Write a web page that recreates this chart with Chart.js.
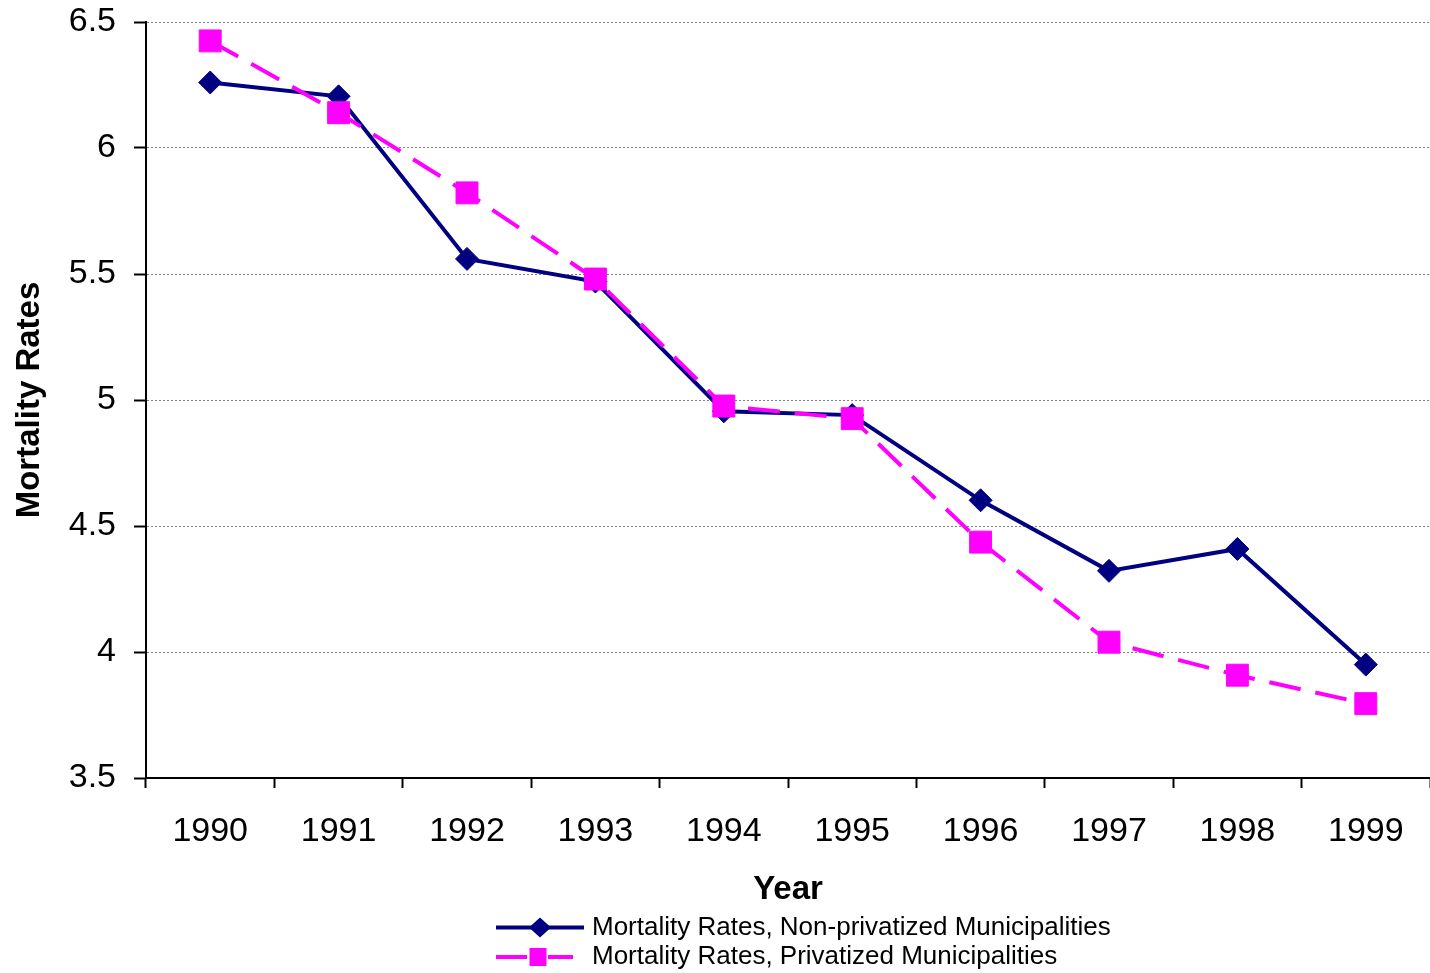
<!DOCTYPE html>
<html>
<head>
<meta charset="utf-8">
<script src="https://cdn.jsdelivr.net/npm/chart.js@4/dist/chart.umd.min.js"></script>
<style>
html,body{margin:0;padding:0;background:#fff;}
#wrap{width:1430px;height:973px;position:relative;}
</style>
</head>
<body>
<div id="wrap"><canvas id="c"></canvas></div>
<script>
const years = ['1990','1991','1992','1993','1994','1995','1996','1997','1998','1999'];
const nonPrivatized = [6.26, 6.205, 5.56, 5.47, 4.955, 4.94, 4.602, 4.322, 4.409, 3.95];
const privatized = [6.425, 6.14, 5.822, 5.48, 4.976, 4.926, 4.436, 4.039, 3.908, 3.795];
const yTickLabels = ['3.5','4','4.5','5','5.5','6','6.5'];
const seriesLabels = ['Mortality Rates, Non-privatized Municipalities','Mortality Rates, Privatized Municipalities'];

const FONT = "'Liberation Sans', Arial, sans-serif";

const legendPlugin = {
  id: 'customLegend',
  afterDraw(chart) {
    const ctx = chart.ctx;
    const x0 = 496;
    const rows = [927.5, 957];
    ctx.save();
    chart.data.datasets.forEach((ds, i) => {
      const y = rows[i];
      ctx.strokeStyle = ds.borderColor;
      ctx.lineWidth = 4;
      ctx.setLineDash([]);
      ctx.beginPath();
      if (i === 0) {
        ctx.moveTo(x0, y); ctx.lineTo(x0 + 88, y);
      } else {
        ctx.moveTo(x0, y); ctx.lineTo(x0 + 31, y);
        ctx.moveTo(x0 + 52, y); ctx.lineTo(x0 + 77, y);
      }
      ctx.stroke();
      const mx = i === 0 ? x0 + 44 : x0 + 42;
      ctx.beginPath();
      if (i === 0) {
        ctx.moveTo(mx - 11, y); ctx.lineTo(mx, y - 10);
        ctx.lineTo(mx + 11, y); ctx.lineTo(mx, y + 10);
        ctx.closePath();
      } else {
        ctx.rect(mx - 8.5, y - 9, 17, 18);
      }
      ctx.fillStyle = ds.pointBackgroundColor;
      ctx.fill();
      ctx.fillStyle = '#000';
      ctx.font = "26px " + FONT;
      ctx.textBaseline = 'middle';
      ctx.textAlign = 'left';
      ctx.fillText(ds.label, x0 + 96, y);
    });
    ctx.restore();
  }
};

new Chart(document.getElementById('c'), {
  type: 'line',
  data: {
    labels: years,
    datasets: [
      {
        label: seriesLabels[0],
        data: nonPrivatized,
        borderColor: '#000080',
        backgroundColor: '#000080',
        borderWidth: 4,
        pointStyle: 'rectRot',
        pointRadius: 11.5,
        pointBorderWidth: 1,
        pointBackgroundColor: '#000080',
        pointBorderColor: '#000080',
        tension: 0,
        order: 1
      },
      {
        label: seriesLabels[1],
        data: privatized,
        borderColor: '#FF00FF',
        backgroundColor: '#FF00FF',
        borderWidth: 4,
        borderDash: [32, 15],
        pointStyle: 'rect',
        pointRadius: 15.5,
        pointBorderWidth: 1,
        pointBackgroundColor: '#FF00FF',
        pointBorderColor: '#FF00FF',
        tension: 0,
        order: 0
      }
    ]
  },
  options: {
    responsive: true,
    maintainAspectRatio: false,
    animation: false,
    devicePixelRatio: 1,
    layout: { autoPadding: false, padding: { top: 22, left: 0, right: -5, bottom: 63 } },
    plugins: {
      legend: { display: false },
      tooltip: { enabled: false }
    },
    scales: {
      x: {
        type: 'category',
        offset: true,
        grid: {
          offset: true,
          drawOnChartArea: false,
          drawTicks: true,
          tickLength: 10,
          tickColor: '#000',
          tickWidth: 2,
          color: '#000'
        },
        border: { display: true, color: '#000', width: 2 },
        ticks: {
          color: '#000',
          font: { family: FONT, size: 34 },
          padding: 23,
          maxRotation: 0,
          autoSkip: false
        },
        title: {
          display: true,
          text: 'Year',
          color: '#000',
          font: { family: FONT, size: 33, weight: 'bold', lineHeight: 1.2 },
          padding: { top: 0, bottom: 0 }
        },
        afterFit(scale) {
          scale.height = 132;
          scale.paddingLeft = 0;
          scale.paddingRight = 0;
        }
      },
      y: {
        min: 3.5,
        max: 6.5,
        ticks: {
          stepSize: 0.5,
          color: '#000',
          font: { family: FONT, size: 34 },
          padding: 18,
          callback: (v, i) => yTickLabels[i]
        },
        grid: {
          color: '#808080',
          lineWidth: 1,
          drawTicks: true,
          tickLength: 12,
          tickColor: '#000',
          tickWidth: 2
        },
        border: { display: true, color: '#000', width: 2, dash: [2, 2] },
        title: {
          display: true,
          text: 'Mortality Rates',
          color: '#000',
          font: { family: FONT, size: 33, weight: 'bold', lineHeight: 1.2 },
          padding: { top: 10, bottom: 0 }
        },
        afterFit(scale) {
          scale.width = 146;
          scale.paddingTop = 0;
          scale.paddingBottom = 0;
        }
      }
    }
  },
  plugins: [legendPlugin]
});
</script>
</body>
</html>
